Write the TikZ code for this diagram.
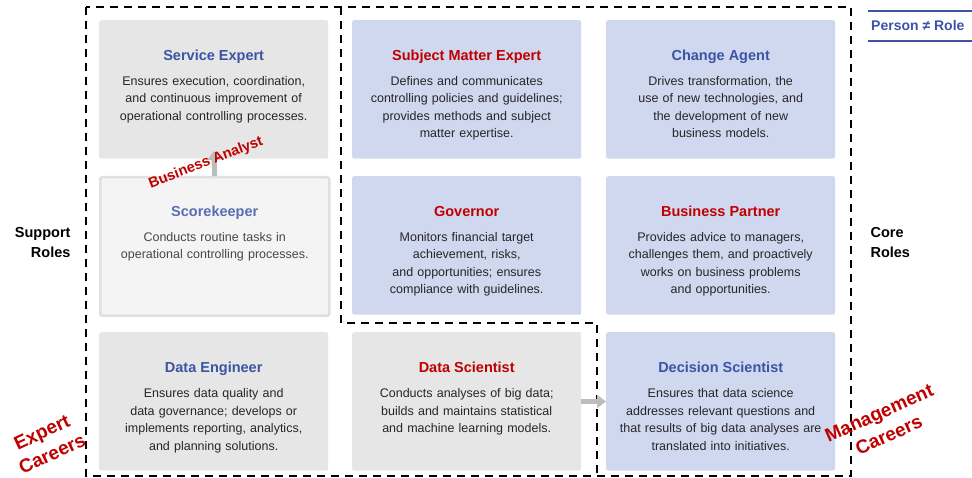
\documentclass[tikz,border=0pt]{standalone}
\usepackage{fontspec}
\setmainfont{Liberation Sans}
\usetikzlibrary{arrows.meta}

\definecolor{boxgrey}{HTML}{E6E6E6}
\definecolor{boxblue}{HTML}{CFD8EF}
\definecolor{keepfill}{HTML}{F4F4F4}
\definecolor{keepline}{HTML}{E0E0E0}
\definecolor{roleblue}{HTML}{3B54A4}
\definecolor{rolered}{HTML}{C00000}
\definecolor{bodytext}{HTML}{262626}
\definecolor{arrowgrey}{HTML}{BDBDBD}

\tikzset{
  rolebox/.style = {anchor=north west, minimum width=229pt, minimum height=138.5pt,
                    inner sep=0pt, rounded corners=2pt},
  roletitle/.style = {anchor=base, font=\fontsize{14.5}{17}\selectfont\bfseries},
  roletext/.style = {anchor=base, text width=226pt, align=center, inner sep=0pt,
                     text=bodytext, font=\fontsize{12.5}{17.5}\selectfont},
  careers/.style = {align=center, text=rolered, font=\fontsize{19}{24}\selectfont\bfseries},
  rolegroup/.style = {align=#1, font=\fontsize{14.5}{20}\selectfont\bfseries},
  border/.style = {black, line width=1.8pt, dash pattern=on 8pt off 6pt},
  promote/.style = {arrowgrey, line width=5pt, -{Triangle[length=9pt, width=13pt]}},
}

\begin{document}
\begin{tikzpicture}[x=1pt, y=-1pt]
    \useasboundingbox (0,0) rectangle (972,478);

    \def \cA {99}
    \def \cB {352}
    \def \cC {606}
    \def \rA {20}
    \def \rB {176}
    \def \rC {332}

    % top row
    \node[rolebox, fill=boxgrey] (se)  at (\cA,\rA) {};
    \node[rolebox, fill=boxblue] (sme) at (\cB,\rA) {};
    \node[rolebox, fill=boxblue] (ca)  at (\cC,\rA) {};

    % middle row
    \node[rolebox, fill=keepfill, draw=keepline, line width=2.5pt] (sk) at (\cA,\rB) {};
    \node[rolebox, fill=boxblue] (gov) at (\cB,\rB) {};
    \node[rolebox, fill=boxblue] (bp)  at (\cC,\rB) {};

    % bottom row
    \node[rolebox, fill=boxgrey] (de)  at (\cA,\rC) {};
    \node[rolebox, fill=boxgrey] (ds)  at (\cB,\rC) {};
    \node[rolebox, fill=boxblue] (dsc) at (\cC,\rC) {};

    \node[roletitle, text=roleblue] (se-t) at ([yshift=-41pt]se.north) {Service Expert};
    \node[roletext] (se-b) at ([yshift=-65.5pt]se.north)
        {Ensures execution, coordination,\\ and continuous improvement of\\ operational controlling processes.};

    \node[roletitle, text=rolered] (sme-t) at ([yshift=-41pt]sme.north) {Subject Matter Expert};
    \node[roletext] (sme-b) at ([yshift=-65.5pt]sme.north)
        {Defines and communicates\\ controlling policies and guidelines;\\ provides methods and subject\\ matter expertise.};

    \node[roletitle, text=roleblue] (ca-t) at ([yshift=-41pt]ca.north) {Change Agent};
    \node[roletext] (ca-b) at ([yshift=-65.5pt]ca.north)
        {Drives transformation, the\\ use of new technologies, and\\ the development of new\\ business models.};

    \node[roletitle, text=roleblue!85] (sk-t) at ([yshift=-41pt]sk.north) {Scorekeeper};
    \node[roletext, text=bodytext!85] (sk-b) at ([yshift=-65.5pt]sk.north)
        {Conducts routine tasks in\\ operational controlling processes.};

    \node[roletitle, text=rolered] (gov-t) at ([yshift=-41pt]gov.north) {Governor};
    \node[roletext] (gov-b) at ([yshift=-65.5pt]gov.north)
        {Monitors financial target\\ achievement, risks,\\ and opportunities; ensures\\ compliance with guidelines.};

    \node[roletitle, text=rolered] (bp-t) at ([yshift=-41pt]bp.north) {Business Partner};
    \node[roletext] (bp-b) at ([yshift=-65.5pt]bp.north)
        {Provides advice to managers,\\ challenges them, and proactively\\ works on business problems\\ and opportunities.};

    \node[roletitle, text=roleblue] (de-t) at ([yshift=-41pt]de.north) {Data Engineer};
    \node[roletext] (de-b) at ([yshift=-65.5pt]de.north)
        {Ensures data quality and\\ data governance; develops or\\ implements reporting, analytics,\\ and planning solutions.};

    \node[roletitle, text=rolered] (ds-t) at ([yshift=-41pt]ds.north) {Data Scientist};
    \node[roletext] (ds-b) at ([yshift=-65.5pt]ds.north)
        {Conducts analyses of big data;\\ builds and maintains statistical\\ and machine learning models.};

    \node[roletitle, text=roleblue] (dsc-t) at ([yshift=-41pt]dsc.north) {Decision Scientist};
    \node[roletext] (dsc-b) at ([yshift=-65.5pt]dsc.north)
        {Ensures that data science\\ addresses relevant questions and\\ that results of big data analyses are\\ translated into initiatives.};

    % career paths
    \draw[border] (86,7) rectangle (851,476);
    \draw[border] (341,7) -- (341,323) -- (597,323) -- (597,476);

    \draw[promote] (sk.north) -- ([yshift=8pt]se.south);
    \draw[promote] (ds) -- (dsc);

    \node[careers, rotate=21, font=\fontsize{14.5}{17}\selectfont\bfseries] (ba) at (206,163) {Business Analyst};
    \node[careers, rotate=25] (expert) at (47,443) {Expert\\Careers};
    \node[careers, rotate=24] (mgmt) at (884,424) {Management\\Careers};

    \node[rolegroup=right, anchor=east] (support) at (74,243) {Support\\Roles};
    \node[rolegroup=left, anchor=west] (core) at (867,243) {Core\\Roles};

    % person vs role
    \node[anchor=west, inner sep=0pt, text=roleblue, font=\fontsize{14}{16}\selectfont\bfseries] (pr) at (871,26) {Person ≠ Role};
    \draw[roleblue, line width=1.8pt] (868,11) -- (975,11);
    \draw[roleblue, line width=1.8pt] (868,41) -- (975,41);
\end{tikzpicture}
\end{document}
